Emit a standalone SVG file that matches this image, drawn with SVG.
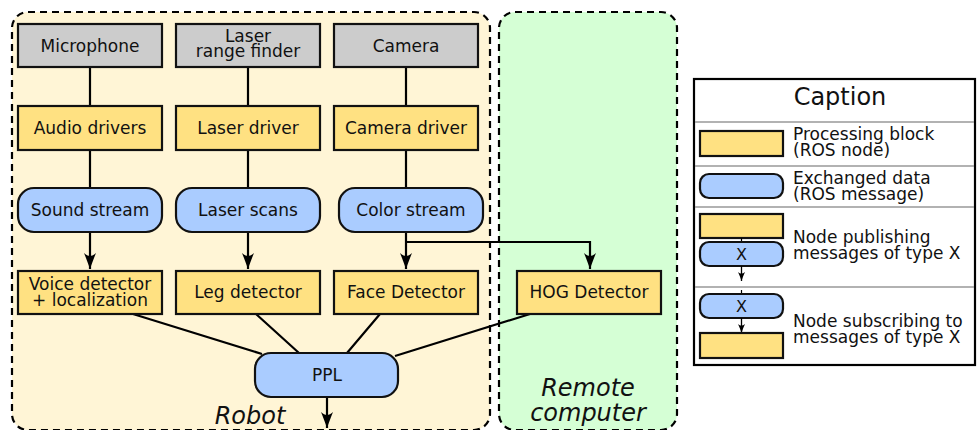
<svg xmlns="http://www.w3.org/2000/svg" width="979" height="430" viewBox="0 0 979 430">
<defs>
<marker id="ah" viewBox="-18 -7 20 14" markerWidth="20" markerHeight="14" refX="0" refY="0" orient="auto" markerUnits="userSpaceOnUse">
<path d="M0,0 C-6,-2 -11,-4 -16,-6 C-12,-2 -12,2 -16,6 C-11,4 -6,2 0,0 Z" fill="#000"/>
</marker>
<marker id="ahs" viewBox="-10 -4 11 8" markerWidth="11" markerHeight="8" refX="0" refY="0" orient="auto" markerUnits="userSpaceOnUse">
<path d="M0,0 C-3,-1 -6,-2 -9,-3.5 C-7,-1 -7,1 -9,3.5 C-6,2 -3,1 0,0 Z" fill="#000"/>
</marker>
</defs>
<style>
text{font-family:"DejaVu Sans","Noto Sans",sans-serif;font-size:17px;fill:#111;text-anchor:middle}
.gray{fill:#cccccc;stroke:#111;stroke-width:2.2}
.yel{fill:#ffe182;stroke:#111;stroke-width:2.2}
.blue{fill:#aaccff;stroke:#111;stroke-width:2.2}
.ln{fill:none;stroke:#000;stroke-width:2.2}
.arr{fill:none;stroke:#000;stroke-width:2.2;marker-end:url(#ah)}
.sarr{fill:none;stroke:#000;stroke-width:1.3;marker-end:url(#ahs)}
.cont{stroke:#000;stroke-width:2.2;stroke-dasharray:7,5}
.ital{font-style:italic;font-size:24px}
.lg{text-anchor:start;font-size:17px}
.sep{stroke:#999;stroke-width:1.5}
</style>
<g id="robot">
<rect class="cont" x="12" y="12" width="478" height="418" rx="16" fill="#fff5d6"/>
<text class="ital" x="250" y="424">Robot</text>
</g>
<g id="remote">
<rect class="cont" x="499" y="12" width="178" height="418" rx="16" fill="#d5ffd5"/>
<text class="ital" x="588" y="396">Remote</text>
<text class="ital" x="588" y="421">computer</text>
</g>
<g id="connectors">
<path class="ln" d="M90,67V106M90,150V188"/>
<path class="ln" d="M248,67V106M248,150V188"/>
<path class="ln" d="M406,67V106M406,150V188"/>
<path class="arr" d="M90,232V269"/>
<path class="arr" d="M248,232V269"/>
<path class="arr" d="M406,232V269"/>
<path class="arr" d="M406,242H590V269"/>
<path class="ln" d="M133,314L262,354M256,314L299,353M380,314L347,353M530,314L395,356"/>
<path class="arr" d="M327,397V428"/>
</g>
<g id="microphone"><rect class="gray" x="18" y="24" width="144" height="43"/><text x="90" y="52">Microphone</text></g>
<g id="laser-range-finder"><rect class="gray" x="176" y="24" width="144" height="43"/><text x="248" y="42">Laser</text><text x="248" y="57">range finder</text></g>
<g id="camera"><rect class="gray" x="334" y="24" width="144" height="43"/><text x="406" y="52">Camera</text></g>
<g id="audio-drivers"><rect class="yel" x="18" y="106" width="144" height="44"/><text x="90" y="134">Audio drivers</text></g>
<g id="laser-driver"><rect class="yel" x="176" y="106" width="144" height="44"/><text x="248" y="134">Laser driver</text></g>
<g id="camera-driver"><rect class="yel" x="334" y="106" width="144" height="44"/><text x="406" y="134">Camera driver</text></g>
<g id="sound-stream"><rect class="blue" x="18" y="188" width="144" height="44" rx="16"/><text x="90" y="216">Sound stream</text></g>
<g id="laser-scans"><rect class="blue" x="176" y="188" width="144" height="44" rx="16"/><text x="248" y="216">Laser scans</text></g>
<g id="color-stream"><rect class="blue" x="339" y="188" width="144" height="44" rx="16"/><text x="411" y="216">Color stream</text></g>
<g id="voice-detector"><rect class="yel" x="18" y="271" width="144" height="43"/><text x="90" y="290">Voice detector</text><text x="90" y="306">+ localization</text></g>
<g id="leg-detector"><rect class="yel" x="176" y="271" width="144" height="43"/><text x="248" y="298">Leg detector</text></g>
<g id="face-detector"><rect class="yel" x="334" y="271" width="144" height="43"/><text x="406" y="298">Face Detector</text></g>
<g id="hog-detector"><rect class="yel" x="517" y="271" width="144" height="43"/><text x="589" y="298">HOG Detector</text></g>
<g id="ppl"><rect class="blue" x="255" y="353" width="143" height="44" rx="16"/><text x="327" y="381">PPL</text></g>
<g id="caption">
<rect x="694" y="79" width="281" height="286" fill="#fff" stroke="#000" stroke-width="2.2"/>
<text x="840" y="105" style="font-size:24px">Caption</text>
<path class="sep" d="M695,122H974M695,166H974M695,207H974M695,287H974"/>
<rect class="yel" x="700" y="131" width="83" height="25"/>
<text class="lg" x="793" y="140">Processing block</text>
<text class="lg" x="793" y="156">(ROS node)</text>
<rect class="blue" x="700" y="174" width="83" height="24" rx="9"/>
<text class="lg" x="793" y="184">Exchanged data</text>
<text class="lg" x="793" y="200">(ROS message)</text>
<rect class="yel" x="700" y="214" width="83" height="24"/>
<path d="M741.5,238V242" stroke="#000" stroke-width="1.2"/>
<rect class="blue" x="700" y="242" width="83" height="24" rx="9"/>
<text x="741.5" y="260" style="font-size:16px">X</text>
<path class="sarr" d="M741.5,266V281"/>
<text class="lg" x="793" y="243">Node publishing</text>
<text class="lg" x="793" y="259">messages of type X</text>
<path d="M741.5,290V294" stroke="#000" stroke-width="1.2"/>
<rect class="blue" x="700" y="294" width="83" height="24" rx="9"/>
<text x="741.5" y="312" style="font-size:16px">X</text>
<path class="sarr" d="M741.5,318V333"/>
<rect class="yel" x="700" y="333" width="83" height="25"/>
<text class="lg" x="793" y="327">Node subscribing to</text>
<text class="lg" x="793" y="343">messages of type X</text>
</g>
</svg>
